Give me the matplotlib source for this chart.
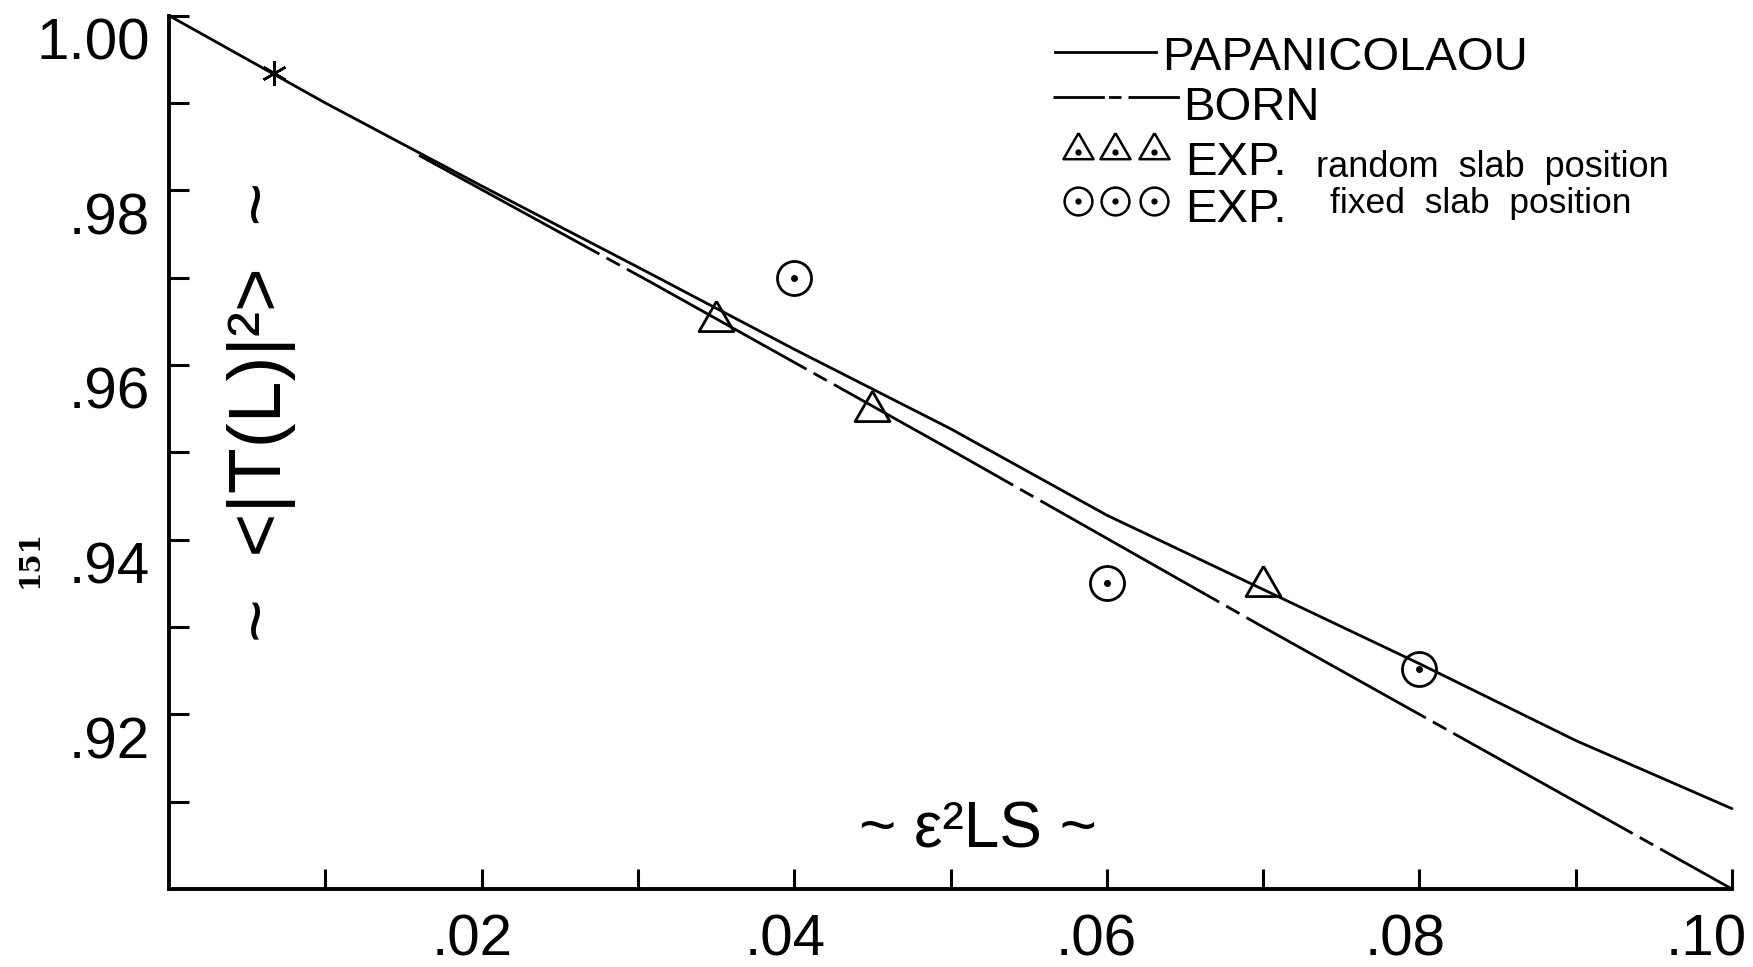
import matplotlib
matplotlib.use('Agg')
import matplotlib.pyplot as plt
from matplotlib import font_manager as fm
from matplotlib.lines import Line2D
from matplotlib.transforms import ScaledTranslation

# ---------------- data ----------------
pap_x = [0.000, 0.010, 0.020, 0.030, 0.040, 0.050, 0.060, 0.070, 0.080, 0.090, 0.100]
pap_y = [1.0000, 0.9900, 0.9805, 0.9712, 0.9618, 0.9527, 0.9428, 0.9343, 0.9258, 0.9170, 0.9092]

born_x = [0.016, 0.0308, 0.0498, 0.0698, 0.0788, 0.100]
born_y = [0.984, 0.9695, 0.9505, 0.9302, 0.9212, 0.900]

rand_x = [0.035, 0.045, 0.070]
rand_y = [0.9650, 0.9547, 0.9347]

fixed_x = [0.040, 0.060, 0.080]
fixed_y = [0.9700, 0.9350, 0.9252]

star_x = [0.0067]
star_y = [0.9934]

xticks = [0.02, 0.04, 0.06, 0.08, 0.10]
xticklabels = ['.02', '.04', '.06', '.08', '.10']
xminor = [0.01, 0.03, 0.05, 0.07, 0.09]
yticks = [0.92, 0.94, 0.96, 0.98, 1.00]
yticklabels = ['.92', '.94', '.96', '.98', '1.00']
yminor = [0.91, 0.93, 0.95, 0.97, 0.99]

legend_pap = 'PAPANICOLAOU'
legend_born = 'BORN'
legend_exp = 'EXP.'
legend_rand = 'random  slab  position'
legend_fixed = 'fixed  slab  position'
ylabel_text = '~  <|T(L)|²>  ~'
xlabel_text = '~ ε²LS ~'
page_text = '151'

# ---------------- fonts ----------------
names = {f.name for f in fm.fontManager.ttflist}
HAS_NARROW = 'Liberation Sans Narrow' in names
REG = ['Liberation Sans', 'DejaVu Sans']
NAR = ['Liberation Sans Narrow', 'Liberation Sans', 'DejaVu Sans'] if HAS_NARROW else REG
plt.rcParams['font.family'] = REG
plt.rcParams['lines.scale_dashes'] = False

W, H = 1753, 967
fig = plt.figure(figsize=(W / 100, H / 100), dpi=100)
fig.patch.set_facecolor('white')

L, R, T, B = 169, 1732, 15.6, 889
ax = fig.add_axes([L / W, 1 - B / H, (R - L) / W, (B - T) / H])
ax.set_xlim(0, 0.10)
ax.set_ylim(0.90, 1.00)
for s in ['top', 'right']:
    ax.spines[s].set_visible(False)
for s in ['left', 'bottom']:
    ax.spines[s].set_linewidth(2.8)
    ax.spines[s].set_color('black')

ax.set_xticks(xticks, xticklabels)
ax.set_xticks(xminor, minor=True)
ax.set_yticks(yticks, yticklabels)
ax.set_yticks(yminor, minor=True)
ax.tick_params(which='both', direction='in', length=14.5, width=2.2, color='black')
ax.tick_params(axis='x', which='major', pad=18)
ax.tick_params(axis='y', which='major', pad=14)

xfs = 47 if HAS_NARROW else 42
x_label_shift_px = [-9, -9, -11, -14, -26]
for lab, dx in zip(ax.get_xticklabels(), x_label_shift_px):
    lab.set_fontsize(xfs)
    lab.set_fontfamily(NAR)
    lab.set_transform(lab.get_transform() + ScaledTranslation(dx / 100, 0, fig.dpi_scale_trans))
for lab in ax.get_yticklabels():
    lab.set_fontsize(42)
    lab.set_va('top')
    lab.set_transform(lab.get_transform() + ScaledTranslation(0, -2 / 100, fig.dpi_scale_trans))

# ---------------- curves ----------------
ax.plot(pap_x, pap_y, color='black', lw=2.0, solid_capstyle='round', clip_on=False)
ax.plot(born_x, born_y, color='black', lw=2.0, dashes=(148, 5.8, 11, 5.8), clip_on=False)

tri = [(0, 1), (-0.866, -0.5), (0.866, -0.5), (0, 1)]
ax.plot(rand_x, rand_y, ls='none', marker=tri, ms=29, mfc='none', mec='black', mew=2.0)
ax.plot(fixed_x, fixed_y, ls='none', marker='o', ms=24.5, mfc='none', mec='black', mew=2.0)
ax.plot(fixed_x, fixed_y, ls='none', marker='o', ms=4, mfc='black', mec='black')
ax.plot(star_x, star_y, ls='none', marker=(6, 2, 0), ms=18, mec='black', mew=1.8)

# ---------------- axis labels ----------------
ax.text((978 - L) / (R - L), (B - 847) / (B - T), xlabel_text, transform=ax.transAxes,
        ha='center', va='baseline', fontsize=46)
fig.text(262 / W, 1 - 412 / H, ylabel_text, rotation=90, ha='center', va='center', fontsize=54)
fig.text(30 / W, 1 - 559 / H, page_text, rotation=90, ha='center', va='center',
         fontsize=20, family=['DejaVu Serif'], fontweight='bold')

# ---------------- legend (drawn in figure pixel space) ----------------
def P(x, y):
    return x / W, 1 - y / H

def hline(x1, x2, y, **kw):
    (a, b), (c, d) = P(x1, y), P(x2, y)
    fig.add_artist(Line2D([a, c], [b, d], transform=fig.transFigure, color='black', **kw))

def marks(xs, y, **kw):
    pts = [P(x, y) for x in xs]
    fig.add_artist(Line2D([p[0] for p in pts], [p[1] for p in pts], transform=fig.transFigure,
                          ls='none', **kw))

big = 40 if HAS_NARROW else 34
hline(1055, 1156, 52, lw=2.0)
fig.text(*P(1162, 70), legend_pap, ha='left', va='baseline', fontsize=big, family=NAR)

hline(1053, 1180, 97, lw=2.0, dashes=(37, 3, 9, 5))
fig.text(*P(1183, 120), legend_born, ha='left', va='baseline', fontsize=big, family=NAR)

legx = [1078, 1115, 1154]
marks(legx, 150, marker=tri, ms=25, mfc='none', mec='black', mew=1.8)
marks(legx, 152, marker='o', ms=3.5, mfc='black', mec='black')
fig.text(*P(1185, 175), legend_exp, ha='left', va='baseline', fontsize=big, family=NAR)
fig.text(*P(1316, 177), legend_rand, ha='left', va='baseline', fontsize=26)

marks(legx, 201, marker='o', ms=20, mfc='none', mec='black', mew=1.8)
marks(legx, 201, marker='o', ms=3.5, mfc='black', mec='black')
fig.text(*P(1185, 222), legend_exp, ha='left', va='baseline', fontsize=big, family=NAR)
fig.text(*P(1330, 213), legend_fixed, ha='left', va='baseline', fontsize=25.5)

fig.savefig('out.png', dpi=100, facecolor='white')
